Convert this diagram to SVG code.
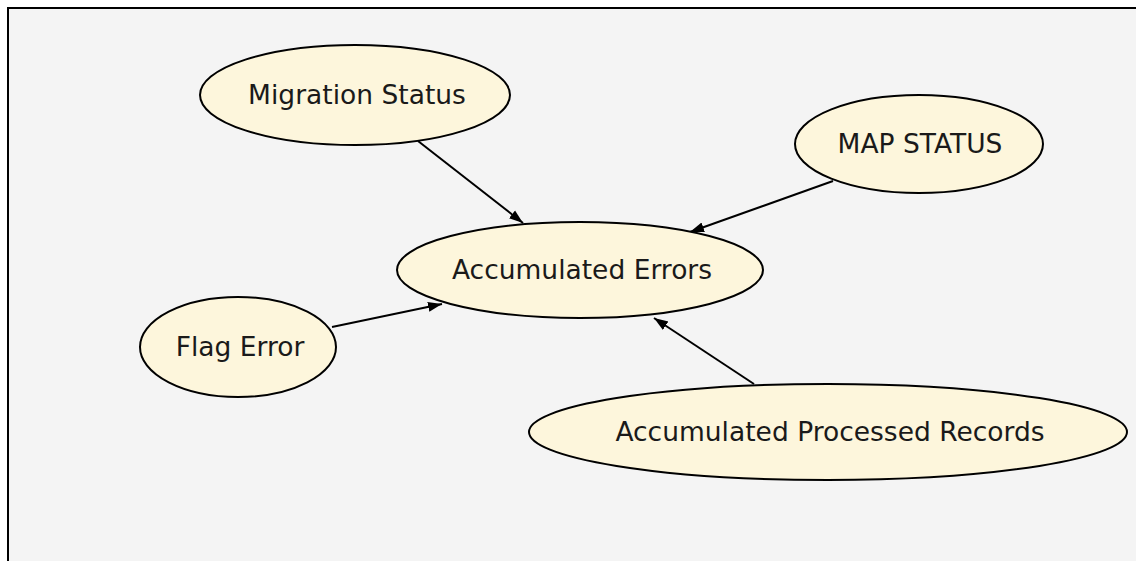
<svg xmlns="http://www.w3.org/2000/svg" width="1136" height="561" viewBox="0 0 1136 561">
  <style>
    .node ellipse { fill: #fdf6dc; stroke: #000; stroke-width: 2; }
    .node text { font-family: "DejaVu Sans", Verdana, sans-serif; font-size: 26.5px; fill: #1a1a1a; text-anchor: middle; }
    .edge { stroke: #000; stroke-width: 2; fill: none; marker-end: url(#arrow); }
  </style>
  <defs>
    <marker id="arrow" markerUnits="userSpaceOnUse" markerWidth="16" markerHeight="12" refX="14" refY="6" orient="auto">
      <path d="M0,1 L14,6 L0,11 z" fill="#000"/>
    </marker>
  </defs>

  <!-- canvas -->
  <rect x="0" y="0" width="1136" height="561" fill="#ffffff"/>
  <rect x="8" y="8" width="1140" height="560" fill="#f4f4f4" stroke="#000" stroke-width="2"/>

  <!-- connectors -->
  <g id="connectors">
    <line class="edge" x1="418" y1="141" x2="523" y2="223"/>
    <line class="edge" x1="833" y1="181" x2="690" y2="232"/>
    <line class="edge" x1="332" y1="327" x2="442" y2="304"/>
    <line class="edge" x1="754" y1="384" x2="654" y2="318"/>
  </g>

  <!-- nodes -->
  <g id="migration-status" class="node">
    <ellipse cx="355" cy="95" rx="155" ry="50"/>
    <text x="357" y="104">Migration Status</text>
  </g>
  <g id="map-status" class="node">
    <ellipse cx="919" cy="144" rx="124" ry="49"/>
    <text x="920" y="153">MAP STATUS</text>
  </g>
  <g id="accumulated-errors" class="node">
    <ellipse cx="580" cy="270" rx="183" ry="48"/>
    <text x="582" y="279">Accumulated Errors</text>
  </g>
  <g id="flag-error" class="node">
    <ellipse cx="238" cy="347" rx="98" ry="50"/>
    <text x="240" y="356">Flag Error</text>
  </g>
  <g id="accumulated-processed-records" class="node">
    <ellipse cx="828" cy="432" rx="299" ry="48"/>
    <text x="830" y="441">Accumulated Processed Records</text>
  </g>
</svg>
